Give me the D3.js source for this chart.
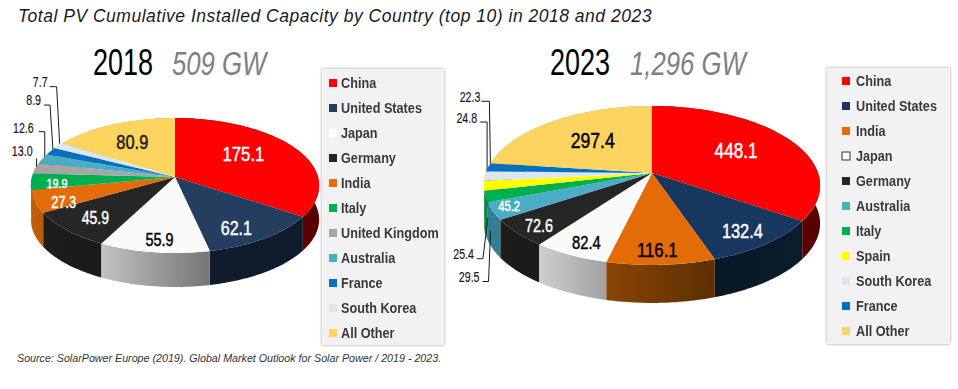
<!DOCTYPE html>
<html>
<head>
<meta charset="utf-8">
<script src="https://cdn.jsdelivr.net/npm/d3@7"></script>
<style>
  html, body { margin: 0; padding: 0; background: #fff; }
  svg { display: block; }
  text { font-family: "Liberation Sans", Arial, sans-serif; }
</style>
</head>
<body>
<script>
// data
const categories2018 = ["China", "United States", "Japan", "Germany", "India", "Italy", "United Kingdom", "Australia", "France", "South Korea", "All Other"];
const values2018 = [175.1, 62.1, 55.9, 45.9, 27.3, 19.9, 13.0, 12.6, 8.9, 7.7, 80.9];
const categories2023 = ["China", "United States", "India", "Japan", "Germany", "Australia", "Italy", "Spain", "South Korea", "France", "All Other"];
const values2023 = [448.1, 132.4, 116.1, 82.4, 72.6, 45.2, 29.5, 25.4, 24.8, 22.3, 297.4];
const labels2018 = ["175.1", "62.1", "55.9", "45.9", "27.3", "19.9", "13.0", "12.6", "8.9", "7.7", "80.9"];
const labels2023 = ["448.1", "132.4", "116.1", "82.4", "72.6", "45.2", "29.5", "25.4", "24.8", "22.3", "297.4"];

const titleText = "Total PV Cumulative Installed Capacity by Country (top 10) in 2018 and 2023";
const sourceText = "Source: SolarPower Europe (2019). Global Market Outlook for Solar Power / 2019 - 2023.";

const faceColors = { "China": "#ff0000", "United States": "#243e60", "Japan": "#fafafa", "Germany": "#262626", "India": "#e36c09", "Italy": "#00b050", "United Kingdom": "#a6a6a6", "Australia": "#4bacc6", "France": "#0070c0", "South Korea": "#dce6f2", "All Other": "#fcd45f", "Spain": "#ffff00" };

const width = 958, height = 389;
const svg = d3.select("body").append("svg").attr("width", width).attr("height", height);
const defs = svg.append("defs");

const blur = defs.append("filter").attr("id", "boxShadow").attr("x", "-5%").attr("y", "-5%").attr("width", "110%").attr("height", "110%");
blur.append("feDropShadow").attr("dx", 0).attr("dy", 0).attr("stdDeviation", 1.6).attr("flood-color", "#000").attr("flood-opacity", 0.4);

// no narrow font on the box, so squeeze the text sideways
function narrow(parent, x, y, str, sx) {
  return parent.append("text").attr("transform", `translate(${x},${y}) scale(${sx},1)`).text(str);
}

svg.append("text").attr("x", 18).attr("y", 22)
  .style("font-style", "italic").style("font-size", "17.5px").style("letter-spacing", "0.51px")
  .attr("fill", "#1a1a1a").text(titleText);

svg.append("text").attr("x", 17).attr("y", 362)
  .style("font-style", "italic").style("font-size", "10.7px")
  .attr("fill", "#333").text(sourceText);

// pie on a tilted disc: apex is pulled up from the middle of the ellipse by perspective
function drawPie(o) {
  const g = svg.append("g").attr("transform", `translate(${o.cx},${o.cy})`);
  const arcs = d3.pie().sort(null)(o.values);
  const project = (ang, r) => {
    const x = r * Math.sin(ang), y = -r * Math.cos(ang), d = 1 - o.k * y;
    return [o.a * x / d, o.b * y / d];
  };
  const rim = (s, e) => d3.range(0, 61).map(i => project(s + (e - s) * i / 60, 1));
  const line = d3.line();

  // walls first, back to front
  const order = d3.range(arcs.length).sort((p, q) =>
    project((arcs[p].startAngle + arcs[p].endAngle) / 2, 1)[1] - project((arcs[q].startAngle + arcs[q].endAngle) / 2, 1)[1]);
  order.forEach(i => {
    const pts = rim(arcs[i].startAngle, arcs[i].endAngle);
    const low = pts.map(p => [p[0], p[1] + o.depth]).reverse();
    const xs = d3.extent(pts, p => p[0]);
    const id = `wall${o.year}_${i}`;
    const cols = o.walls[o.categories[i]] || [d3.color(faceColors[o.categories[i]]).darker(0.9), d3.color(faceColors[o.categories[i]]).darker(0.9)];
    const grad = defs.append("linearGradient").attr("id", id).attr("gradientUnits", "userSpaceOnUse")
      .attr("x1", xs[0]).attr("x2", xs[1]).attr("y1", 0).attr("y2", 0);
    grad.append("stop").attr("offset", 0).attr("stop-color", cols[0]);
    grad.append("stop").attr("offset", 1).attr("stop-color", cols[1]);
    g.append("path").attr("d", line(pts.concat(low)) + "Z").attr("fill", `url(#${id})`);
  });

  // leader lines, they go under the top face where they meet the wall
  o.leaders.forEach(l => {
    const m = arcs[l.i];
    const p = project((m.startAngle + m.endAngle) / 2, 1);
    const end = [p[0] + l.end[0], p[1] + l.end[1]];
    const elbow = [end[0] + l.elbow[0], end[1] + l.elbow[1]];
    const tail = [elbow[0] - l.tail, elbow[1]];
    g.append("path").attr("d", line([tail, elbow, end])).attr("fill", "none").attr("stroke", "#1a1a1a").attr("stroke-width", 1);
    narrow(g, elbow[0] - l.tail - l.gap, elbow[1] + l.up, o.labels[l.i], 0.76)
      .attr("text-anchor", "end").attr("fill", "#1a1a1a").style("font-size", "14px")
      .attr("stroke", "#1a1a1a").attr("stroke-width", 0.2);
  });

  arcs.forEach((d, i) => {
    g.append("path").attr("d", line([[0, 0]].concat(rim(d.startAngle, d.endAngle))) + "Z")
      .attr("fill", o.faces[o.categories[i]] || faceColors[o.categories[i]]);
  });

  o.inner.forEach(l => {
    const m = arcs[l.i];
    const p = project((m.startAngle + m.endAngle) / 2, 0.62);
    narrow(g, p[0] + l.nudge[0], p[1] + l.nudge[1] + l.size * 0.35, o.labels[l.i], 0.8)
      .attr("text-anchor", "middle")
      .attr("fill", l.fill).style("font-size", l.size + "px")
      .attr("stroke", l.fill).attr("stroke-width", 0.45);
  });
}

function drawLegend(o) {
  const g = svg.append("g");
  g.append("rect").attr("x", o.x).attr("y", o.y).attr("width", o.w).attr("height", o.h)
    .attr("fill", "#f2f2f2").attr("filter", "url(#boxShadow)");
  const y = d3.scalePoint().domain(o.categories).range([o.y + o.first, o.y + o.first + 250]);
  o.categories.forEach(c => {
    g.append("rect").attr("x", o.x + o.swatchX).attr("y", y(c) - 4).attr("width", 8).attr("height", 8)
      .attr("fill", o.faces[c] || faceColors[c])
      .attr("stroke", c === "Japan" && o.outlineJapan ? "#333" : "none");
    narrow(g, o.x + o.textX, y(c) + 5, c, 0.845)
      .attr("fill", "#262626").style("font-size", "15px").style("font-weight", "bold").style("opacity", 0.9);
  });
}

function drawHeading(o) {
  narrow(svg, o.x, o.y, o.year, 0.75).attr("fill", "#000").style("font-size", "36px");
  narrow(svg, o.x2, o.y, o.total, 0.78).attr("fill", "#7f7f7f")
    .style("font-size", "33px").style("font-style", "italic");
}

drawHeading({ x: 93, x2: 172, y: 75, year: "2018", total: "509 GW" });
drawHeading({ x: 550, x2: 630, y: 75, year: "2023", total: "1,296 GW" });

drawPie({
  year: 2018, cx: 175, cy: 177, a: 143, b: 66.4, k: 0.126, depth: 34,
  categories: categories2018, values: values2018, labels: labels2018, faces: {},
  walls: { "China": ["#6b0000", "#5a0000"], "United States": ["#101c2d", "#0f1a2a"], "Japan": ["#c2c2c2", "#757575"], "Germany": ["#1d1d1d", "#1a1a1a"], "India": ["#c26006", "#b85a06"] },
  inner: [
    { i: 0, nudge: [-7, -5], fill: "#fff", size: 21 },
    { i: 1, nudge: [8, 15], fill: "#fff", size: 20 },
    { i: 2, nudge: [-3, 18], fill: "#000", size: 18 },
    { i: 3, nudge: [-15, 9], fill: "#fff", size: 17.5 },
    { i: 4, nudge: [-26, 10], fill: "#fff", size: 16 },
    { i: 5, nudge: [-29, 3], fill: "#fff", size: 13.5 },
    { i: 10, nudge: [-3, -1], fill: "#1a1a1a", size: 20.5 }
  ],
  leaders: [
    { i: 6, end: [1, 0], elbow: [0, -10], tail: 0, gap: 4, up: -2 },
    { i: 7, end: [2, -1], elbow: [0, -26], tail: 6, gap: 5, up: 1 },
    { i: 8, end: [2, -1], elbow: [-3, -45], tail: 6, gap: 3, up: 0 },
    { i: 9, end: [1, -2], elbow: [-3, -57], tail: 7, gap: 2, up: 0 }
  ]
});

drawPie({
  year: 2023, cx: 652, cy: 173, a: 166, b: 77.5, k: 0.157, depth: 38,
  categories: categories2023, values: values2023, labels: labels2023,
  faces: { "United States": "#17375e" },
  walls: { "China": ["#660000", "#590000"], "United States": ["#081826", "#0a1b2c"], "Japan": ["#cfcfcf", "#a0a0a0"], "Germany": ["#1d1d1d", "#1a1a1a"], "India": ["#8a4505", "#5c2e02"], "Australia": ["#2f7f95", "#2f7f95"], "Italy": ["#008a40", "#008a40"] },
  inner: [
    { i: 0, nudge: [-3, -1], fill: "#fff", size: 21.5 },
    { i: 1, nudge: [23, 16], fill: "#fff", size: 20.5 },
    { i: 2, nudge: [0, 23], fill: "#000", size: 21 },
    { i: 3, nudge: [-18, 22], fill: "#000", size: 18.5 },
    { i: 4, nudge: [-33, 17], fill: "#fff", size: 18 },
    { i: 5, nudge: [-47, 10], fill: "#fff", size: 14 },
    { i: 10, nudge: [4, 1], fill: "#000", size: 22 }
  ],
  leaders: [
    { i: 6, end: [5, 34], elbow: [-2, 51], tail: 6, gap: 3, up: 0 },
    { i: 7, end: [4, 32], elbow: [-5, 41], tail: 6, gap: 3, up: 0 },
    { i: 8, end: [2, 1], elbow: [0, -55], tail: 7, gap: 3, up: 1 },
    { i: 9, end: [2, -4], elbow: [-1, -62], tail: 8, gap: 1, up: 1 }
  ]
});

drawLegend({ x: 322, y: 69, w: 122, h: 276, first: 14, swatchX: 7, textX: 19, categories: categories2018, faces: { "Japan": "#ffffff" }, outlineJapan: false });
drawLegend({ x: 827, y: 68, w: 123, h: 276, first: 13, swatchX: 15, textX: 29, categories: categories2023, faces: { "United States": "#17375e", "Japan": "#ffffff" }, outlineJapan: true });
</script>
</body>
</html>
